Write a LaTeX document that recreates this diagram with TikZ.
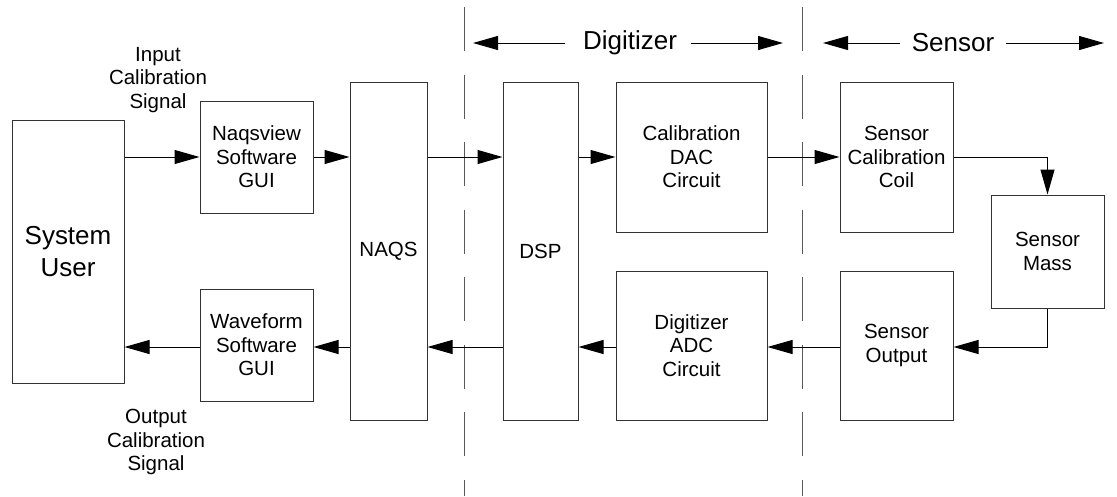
\documentclass[tikz,border=0pt]{standalone}
\usepackage{fontspec}
\setmainfont{Liberation Sans}
\usetikzlibrary{arrows.meta}
\begin{document}
\begin{tikzpicture}[x=1pt,y=-1pt,
  box/.style={draw=black!80, line width=1pt, inner sep=0pt, align=center,
              font=\fontsize{20.5}{23.5}\selectfont},
  lbl/.style={inner sep=0pt, align=center, font=\fontsize{20.5}{23.5}\selectfont},
  head/.style={inner sep=0pt, font=\fontsize{26}{30}\selectfont},
  arr/.style={line width=1pt, -{Triangle[length=25pt,width=14pt]}},
  sep/.style={draw=black!65, line width=1pt, dash pattern=on 44pt off 23.5pt}]
\useasboundingbox (0,0) rectangle (1117,496);
% boxes
\node[box, minimum width=112pt, minimum height=263pt, font=\fontsize{26}{32}\selectfont] (sys) at (68,252) {System\\User};
\node[box, minimum width=113pt, minimum height=112pt] (nqv) at (256.5,157) {Naqsview\\Software\\GUI};
\node[box, minimum width=113pt, minimum height=112pt] (wav) at (256.5,345) {Waveform\\Software\\GUI};
\node[box, minimum width=77pt, minimum height=338pt] (naqs) at (388.5,251) {NAQS};
\node[box, minimum width=75pt, minimum height=338pt] (dsp) at (540.5,251) {DSP};
\node[box, minimum width=151pt, minimum height=150pt] (dac) at (691.5,157) {Calibration\\DAC\\Circuit};
\node[box, minimum width=151pt, minimum height=149pt] (adc) at (691.5,345.5) {Digitizer\\ADC\\Circuit};
\node[box, minimum width=113pt, minimum height=150pt] (coil) at (896.5,157) {Sensor\\Calibration\\Coil};
\node[box, minimum width=113pt, minimum height=149pt] (sout) at (896.5,345.5) {Sensor\\Output};
\node[box, minimum width=113pt, minimum height=113pt] (mass) at (1047.5,251.5) {Sensor\\Mass};
% labels
\node[lbl] (inlbl) at (158,80) {Input\\Calibration\\Signal};
\node[lbl] (outlbl) at (156,442) {Output\\Calibration\\Signal};
% separators
\coordinate (s1t) at (464,7);
\coordinate (s1b) at (464,496);
\coordinate (s2t) at (802,7);
\coordinate (s2b) at (802,496);
\draw[sep] (s1t) -- (s1b);
\draw[sep] (s2t) -- (s2b);
% headers
\node[head] (digi) at (630,43) {Digitizer};
\node[head] (sens) at (953,43) {Sensor};
\coordinate (dL) at (473,43);
\coordinate (dR) at (783,43);
\coordinate (sL) at (823,43);
\coordinate (sR) at (1104,43);
\draw[arr] ([xshift=-18pt]digi.west) -- (dL);
\draw[arr] ([xshift=14pt]digi.east) -- (dR);
\draw[arr] ([xshift=-12pt]sens.west) -- (sL);
\draw[arr] ([xshift=12pt]sens.east) -- (sR);
% rows
\coordinate (trow) at (0,157);
\coordinate (brow) at (0,347);
% top row connectors
\draw[arr] (sys.east |- trow) -- (nqv.west |- trow);
\draw[arr] (nqv.east |- trow) -- (naqs.west |- trow);
\draw[arr] (naqs.east |- trow) -- (dsp.west |- trow);
\draw[arr] (dsp.east |- trow) -- (dac.west |- trow);
\draw[arr] (dac.east |- trow) -- (coil.west |- trow);
\draw[arr] (coil.east |- trow) -| (mass.north);
% bottom row connectors
\draw[arr] (mass.south) |- (sout.east |- brow);
\draw[arr] (sout.west |- brow) -- (adc.east |- brow);
\draw[arr] (adc.west |- brow) -- (dsp.east |- brow);
\draw[arr] (dsp.west |- brow) -- (naqs.east |- brow);
\draw[arr] (naqs.west |- brow) -- (wav.east |- brow);
\draw[arr] (wav.west |- brow) -- (sys.east |- brow);
\end{tikzpicture}
\end{document}
